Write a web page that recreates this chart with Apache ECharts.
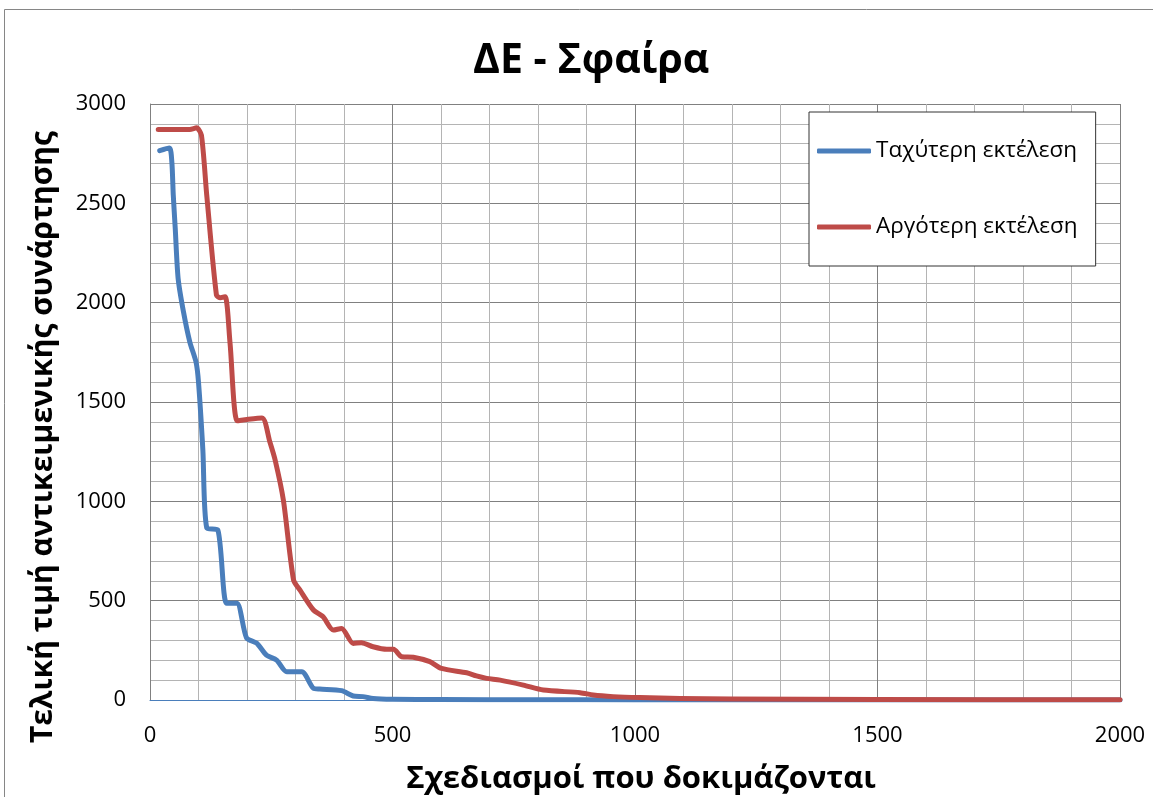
<!DOCTYPE html>
<html><head><meta charset="utf-8">
<script src="https://cdn.jsdelivr.net/npm/echarts@6/dist/echarts.min.js"></script>
<style>html,body{margin:0;padding:0;background:#fff}#c{width:1153px;height:797px}</style>
</head><body><div id="c"></div>
<script>
const titleText = 'ΔΕ - Σφαίρα';
const xAxisName = 'Σχεδιασμοί που δοκιμάζονται';
const yAxisName = 'Τελική τιμή αντικειμενικής συνάρτησης';
const seriesNames = ['Ταχύτερη εκτέλεση', 'Αργότερη εκτέλεση'];

const fastX = [20, 40, 45, 48, 52, 58, 69, 82, 95, 100, 109, 117, 140, 158, 179, 199, 220, 240, 261, 282, 313, 337, 350, 395, 419, 439, 460, 500, 600, 800, 1000, 1500, 2000];
const fastY = [2765, 2778, 2709, 2541, 2375, 2122, 1954, 1803, 1700, 1600, 1258, 866, 855, 487, 487, 313, 286, 226, 201, 142, 142, 59, 55, 47, 20, 17, 8, 4, 2, 1, 0.5, 0, 0];

const slowX = [17, 82, 96, 106, 117, 137, 145, 155, 165, 180, 200, 231, 247, 258, 275, 296, 309, 337, 357, 378, 395, 419, 436, 460, 488, 502, 519, 543, 577, 601, 653, 673, 694, 722, 770, 811, 887, 914, 955, 1010, 1093, 1200, 1500, 2000];
const slowY = [2872, 2872, 2880, 2843, 2541, 2038, 2025, 2030, 1797, 1405, 1412, 1420, 1300, 1208, 1006, 604, 554, 453, 419, 352, 360, 285, 288, 268, 255, 255, 218, 215, 193, 159, 137, 121, 109, 100, 75, 50, 37, 25, 17, 12, 8, 5, 2, 1];

const FONT = '"Open Sans", "Noto Sans", sans-serif';
const pairs = (xs, ys) => xs.map((x, i) => [x, ys[i]]);
const plain = v => String(v);

const chart = echarts.init(document.getElementById('c'));
chart.setOption({
  animation: false,
  backgroundColor: '#fff',
  title: {
    text: titleText, left: 468, top: 36,
    textStyle: {fontFamily: FONT, fontWeight: 'bold', fontSize: 41, color: '#000'}
  },
  grid: {left: 150, right: 33, top: 104, bottom: 97, containLabel: false, outerBoundsMode: 'none'},
  legend: {
    orient: 'vertical', left: 809, top: 112, z: 100,
    padding: [27, 18, 27, 8], itemGap: 52,
    backgroundColor: '#fff', borderColor: '#333', borderWidth: 1,
    itemWidth: 54, itemHeight: 5, icon: 'roundRect',
    textStyle: {fontFamily: FONT, fontSize: 22.5, color: '#000', lineHeight: 24, padding: [0, 0, 0, 0]},
    data: seriesNames
  },
  xAxis: {
    type: 'value', min: 0, max: 2000, interval: 500,
    name: xAxisName, nameLocation: 'middle', nameGap: 64,
    nameTextStyle: {fontFamily: FONT, fontWeight: 'bold', fontSize: 31, color: '#000', padding: [0, 0, 0, 12]},
    axisLine: {show: true, lineStyle: {color: '#4a7ebb', width: 1}},
    axisTick: {show: false},
    axisLabel: {fontFamily: FONT, fontSize: 22, color: '#000', margin: 25, formatter: plain},
    splitLine: {show: true, lineStyle: {color: '#808080', width: 1}},
    minorTick: {show: false, splitNumber: 5},
    minorSplitLine: {show: true, lineStyle: {color: '#b4b4b4', width: 1}}
  },
  yAxis: {
    type: 'value', min: 0, max: 3000, interval: 500,
    name: yAxisName, nameLocation: 'middle', nameGap: 92,
    nameTextStyle: {fontFamily: FONT, fontWeight: 'bold', fontSize: 30, color: '#000', padding: [0, 70, 0, 0]},
    axisLine: {show: true, lineStyle: {color: '#808080', width: 1}},
    axisTick: {show: false},
    axisLabel: {fontFamily: FONT, fontSize: 22, color: '#000', margin: 24, formatter: plain},
    splitLine: {show: true, lineStyle: {color: '#808080', width: 1}},
    minorTick: {show: false, splitNumber: 5},
    minorSplitLine: {show: true, lineStyle: {color: '#b4b4b4', width: 1}}
  },
  graphic: [{
    type: 'rect', z: -10, silent: true,
    shape: {x: 4.5, y: 9.5, width: 1170, height: 820},
    style: {fill: 'none', stroke: '#868686', lineWidth: 1}
  }],
  series: [
    {name: seriesNames[0], type: 'line', data: pairs(fastX, fastY), smooth: 0.25,
     showSymbol: false, symbol: 'none', color: '#4a7ebb', z: 3,
     lineStyle: {width: 5, color: '#4a7ebb', cap: 'round', join: 'round'}},
    {name: seriesNames[1], type: 'line', data: pairs(slowX, slowY), smooth: 0.25,
     showSymbol: false, symbol: 'none', color: '#be4b48', z: 4,
     lineStyle: {width: 5, color: '#be4b48', cap: 'round', join: 'round'}}
  ]
});
</script></body></html>
